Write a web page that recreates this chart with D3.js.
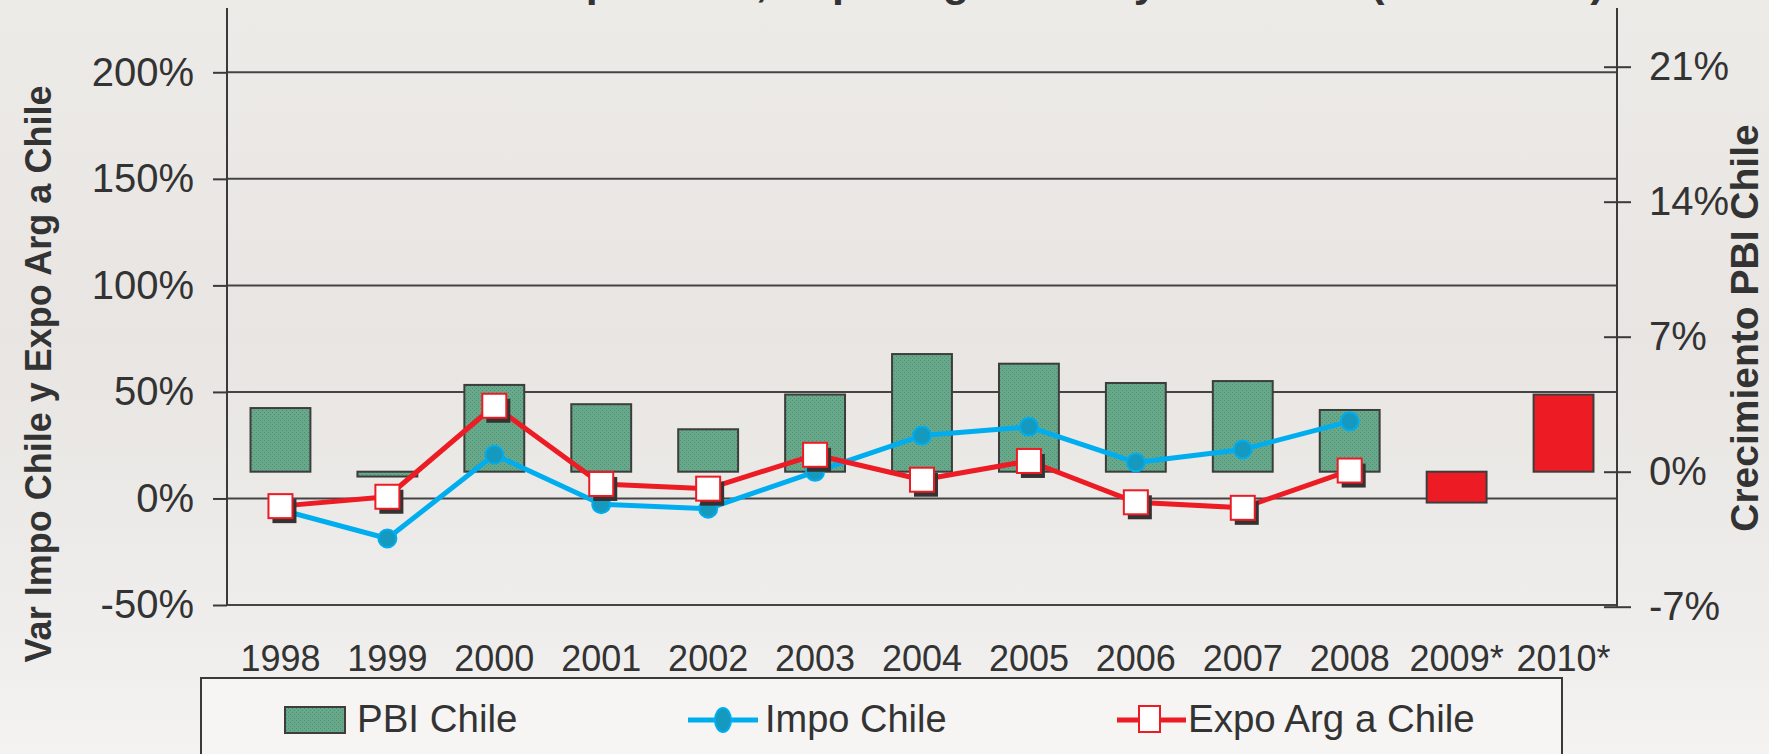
<!DOCTYPE html>
<meta charset="utf-8">
<style>
html, body {
  margin: 0;
  padding: 0;
}
body {
  width: 1769px;
  height: 754px;
  overflow: hidden;
  background-color: #efedeb;
}
text {
  font-family: "Liberation Sans", Arial, sans-serif;
  fill: #333;
}
.axis path {
  display: none;
}
.axis line {
  stroke: #3a3a3a;
  stroke-width: 2px;
}
.grid line {
  stroke: #444;
  stroke-width: 2px;
}
</style>
<svg width="1769" height="754"></svg>
<script src="https://d3js.org/d3.v7.min.js"></script>
<script>
// data
var years = ["1998", "1999", "2000", "2001", "2002", "2003", "2004", "2005", "2006", "2007", "2008", "2009*", "2010*"];
var pbi  = [3.3, -0.25, 4.5, 3.5, 2.2, 4.0, 6.1, 5.6, 4.6, 4.7, 3.2, -1.6, 4.0];
var impo = [-5.3, -18.8, 20.5, -2.7, -4.8, 12.5, 29.5, 33.6, 16.9, 23.0, 36.2, null, null];
var expo = [-3.6, 0.8, 43.5, 6.8, 4.6, 20.5, 8.8, 17.6, -1.8, -4.4, 13.1, null, null];
var projected = ["2009*", "2010*"];
var leftTicks = [-50, 0, 50, 100, 150, 200];
var rightTicks = [-7, 0, 7, 14, 21];

var svg = d3.select("svg"),
    plotLeft = 227, plotRight = 1617,
    plotTop = 8;

var x = d3.scaleBand().domain(years).range([plotLeft, plotRight]);
var yL = d3.scaleLinear().domain([-50, 200]).range([605, 72.3]);
var yR = d3.scaleLinear().domain([-7, 21]).range([606.7, 66.7]);

var defs = svg.append("defs");
var grad = defs.append("linearGradient")
    .attr("id", "bg").attr("x1", 0).attr("y1", 0).attr("x2", 0).attr("y2", 1);
grad.append("stop").attr("offset", "0").attr("stop-color", "#edebe8");
grad.append("stop").attr("offset", "0.45").attr("stop-color", "#e8e5e2");
grad.append("stop").attr("offset", "0.85").attr("stop-color", "#efeeec");
grad.append("stop").attr("offset", "1").attr("stop-color", "#f4f3f2");

var pat = defs.append("pattern")
    .attr("id", "dots").attr("width", 4).attr("height", 4)
    .attr("patternUnits", "userSpaceOnUse");
pat.append("rect").attr("width", 4).attr("height", 4).attr("fill", "#67a98a");
pat.append("rect").attr("width", 1).attr("height", 1).attr("fill", "#4e8e70");
pat.append("rect").attr("x", 2).attr("y", 2).attr("width", 1).attr("height", 1).attr("fill", "#4e8e70");

svg.append("rect").attr("width", 1769).attr("height", 754).attr("fill", "url(#bg)");

// title, mostly above the visible area
svg.append("text")
    .attr("x", 922).attr("y", -4)
    .attr("text-anchor", "middle")
    .style("font-size", "43px").style("font-weight", "bold")
    .text("Evolución Var Impo Chile, Expo Arg a Chile y PBI Chile (1998-2010)");

// gridlines
svg.append("g").attr("class", "grid")
  .selectAll("line")
  .data(leftTicks)
  .enter().append("line")
    .attr("x1", plotLeft).attr("x2", plotRight)
    .attr("y1", function(d) { return yL(d); })
    .attr("y2", function(d) { return yL(d); });

// axes
var gl = svg.append("g").attr("class", "axis")
    .attr("transform", "translate(" + plotLeft + ",0)")
    .call(d3.axisLeft(yL).tickValues(leftTicks).tickFormat(function(d) { return d + "%"; })
      .tickSizeInner(14).tickSizeOuter(0).tickPadding(19));
gl.selectAll("text").style("font-size", "40px");
gl.append("line").attr("y1", plotTop).attr("y2", yL(-50));

var gr = svg.append("g").attr("class", "axis")
    .attr("transform", "translate(" + plotRight + ",0)")
    .call(d3.axisRight(yR).tickValues(rightTicks).tickFormat(function(d) { return d + "%"; })
      .tickSizeInner(14).tickSizeOuter(0).tickPadding(18));
gr.selectAll("text").style("font-size", "40px");
gr.selectAll(".tick").append("line").attr("x2", -13);
gr.append("line").attr("y1", plotTop).attr("y2", yR(-7));

var gx = svg.append("g").attr("class", "axis")
    .attr("transform", "translate(0," + yL(-50) + ")")
    .call(d3.axisBottom(x).tickSize(0).tickPadding(40));
gx.selectAll("text").style("font-size", "36px");

// axis titles
svg.append("text")
    .attr("transform", "translate(51,374) rotate(-90)")
    .attr("text-anchor", "middle")
    .style("font-size", "36px").style("font-weight", "bold")
    .text("Var Impo Chile y Expo Arg a Chile");

svg.append("text")
    .attr("transform", "translate(1758,328) rotate(-90)")
    .attr("text-anchor", "middle")
    .style("font-size", "39px").style("font-weight", "bold")
    .text("Crecimiento PBI Chile");

// PBI bars
var bw = x.bandwidth() * 0.56;
svg.append("g").selectAll("rect")
    .data(years)
  .enter().append("rect")
    .attr("x", function(d) { return x(d) + (x.bandwidth() - bw) / 2; })
    .attr("width", bw)
    .attr("y", function(d, i) { return Math.min(yR(pbi[i]), yR(0)); })
    .attr("height", function(d, i) { return Math.abs(yR(pbi[i]) - yR(0)); })
    .attr("fill", function(d) { return projected.indexOf(d) >= 0 ? "#ed1c24" : "url(#dots)"; })
    .attr("stroke", "#3d3d3d")
    .attr("stroke-width", 2);

var cx = function(i) { return x(years[i]) + x.bandwidth() / 2; };

// Impo Chile
var lineL = d3.line()
    .defined(function(d) { return d != null; })
    .x(function(d, i) { return cx(i); })
    .y(function(d) { return yL(d); });

svg.append("path")
    .attr("d", lineL(impo))
    .attr("fill", "none").attr("stroke", "#00aeef").attr("stroke-width", 5)
    .attr("stroke-linejoin", "round");

svg.append("g").selectAll("circle")
    .data(impo.map(function(v, i) { return {v: v, i: i}; }).filter(function(d) { return d.v != null; }))
  .enter().append("circle")
    .attr("cx", function(d) { return cx(d.i); })
    .attr("cy", function(d) { return yL(d.v); })
    .attr("r", 9)
    .attr("fill", "#1699bf").attr("stroke", "#00aeef").attr("stroke-width", 2);

// Expo Arg a Chile
svg.append("path")
    .attr("d", lineL(expo))
    .attr("fill", "none").attr("stroke", "#ed1c24").attr("stroke-width", 5)
    .attr("stroke-linejoin", "round");

var sq = svg.append("g").selectAll("g")
    .data(expo.map(function(v, i) { return {v: v, i: i}; }).filter(function(d) { return d.v != null; }))
  .enter().append("g")
    .attr("transform", function(d) { return "translate(" + cx(d.i) + "," + yL(d.v) + ")"; });
sq.append("rect")
    .attr("x", -8).attr("y", -7).attr("width", 24).attr("height", 24)
    .attr("fill", "#333");
sq.append("rect")
    .attr("x", -12).attr("y", -12).attr("width", 24).attr("height", 24)
    .attr("fill", "#fff").attr("stroke", "#ed1c24").attr("stroke-width", 2);

// legend
var lg = svg.append("g");
lg.append("rect")
    .attr("x", 201).attr("y", 678).attr("width", 1361).attr("height", 120)
    .attr("fill", "#f6f5f3").attr("stroke", "#3a3a3a").attr("stroke-width", 2);

lg.append("rect")
    .attr("x", 285).attr("y", 707).attr("width", 60).attr("height", 26)
    .attr("fill", "url(#dots)").attr("stroke", "#3d3d3d").attr("stroke-width", 2);
lg.append("text").attr("x", 357).attr("y", 732).style("font-size", "38.5px").text("PBI Chile");

lg.append("line")
    .attr("x1", 688).attr("x2", 758).attr("y1", 720).attr("y2", 720)
    .attr("stroke", "#00aeef").attr("stroke-width", 5);
lg.append("ellipse")
    .attr("cx", 723).attr("cy", 720).attr("rx", 8).attr("ry", 12)
    .attr("fill", "#1699bf").attr("stroke", "#00aeef").attr("stroke-width", 2);
lg.append("text").attr("x", 765).attr("y", 732).style("font-size", "38px").text("Impo Chile");

lg.append("line")
    .attr("x1", 1117).attr("x2", 1186).attr("y1", 720).attr("y2", 720)
    .attr("stroke", "#ed1c24").attr("stroke-width", 5);
lg.append("rect")
    .attr("x", 1139).attr("y", 706).attr("width", 21).attr("height", 26)
    .attr("fill", "#fff").attr("stroke", "#ed1c24").attr("stroke-width", 2);
lg.append("text").attr("x", 1188).attr("y", 732).style("font-size", "38.5px").text("Expo Arg a Chile");
</script>
